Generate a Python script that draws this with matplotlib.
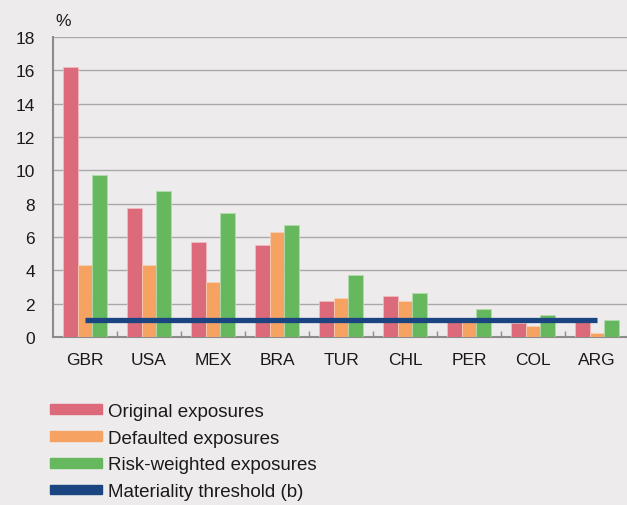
import matplotlib
matplotlib.use('Agg')
import matplotlib.pyplot as plt
from matplotlib.patches import Patch
import numpy as np

plt.rcParams['font.family'] = ['Liberation Sans', 'DejaVu Sans']

# exposure shares by country, %
countries = ['GBR', 'USA', 'MEX', 'BRA', 'TUR', 'CHL', 'PER', 'COL', 'ARG']
original = [16.2, 7.75, 5.7, 5.5, 2.15, 2.45, 1.1, 0.85, 1.05]
defaulted = [4.35, 4.3, 3.3, 6.3, 2.35, 2.15, 1.0, 0.65, 0.25]
risk_weighted = [9.75, 8.75, 7.42, 6.72, 3.7, 2.65, 1.7, 1.3, 1.0]
threshold = 1.0

bg = '#eeebec'
c_orig = '#dc6a7a'
c_def = '#f5a263'
c_rw = '#66b85e'
c_thr = '#1b4580'

fig = plt.figure(figsize=(6.27, 5.06), dpi=100, facecolor=bg)
ax = fig.add_axes([53/627, 168/506, 574/627, 300/506], facecolor=bg)

x = np.arange(len(countries))
w = 0.224
ax.bar(x - w, original, w, color=c_orig, edgecolor='#f2c0c6', linewidth=0.5, zorder=3)
ax.bar(x, defaulted, w, color=c_def, edgecolor='#f9d3b5', linewidth=0.5, zorder=3)
ax.bar(x + w, risk_weighted, w, color=c_rw, edgecolor='#b5ddb0', linewidth=0.5, zorder=3)

# threshold runs from the first to the last country
ax.plot([x[0], x[-1]], [threshold, threshold], color=c_thr, lw=3.8,
        solid_capstyle='butt', zorder=4)

ax.set_xlim(-0.5, -0.5 + 574/64)
ax.set_ylim(0, 18)
ax.set_yticks(range(0, 19, 2))
ax.set_xticks(x)
ax.set_xticklabels(countries)
ax.set_xticks(x[:-1] + 0.5, minor=True)
ax.tick_params(axis='x', which='major', length=0, pad=11, labelsize=12.5, colors='#1a1a1a')
ax.tick_params(axis='x', which='minor', direction='in', length=4, width=1, color='#8c8c8c')
ax.tick_params(axis='y', length=0, pad=13, labelsize=12.5, colors='#1a1a1a')

ax.grid(axis='y', color='#a9a9a9', lw=1, zorder=0)
for s in ['top', 'right']:
    ax.spines[s].set_visible(False)
for s in ['left', 'bottom']:
    ax.spines[s].set_color('#8c8c8c')
    ax.spines[s].set_linewidth(1.5)

fig.text(63/627, 1 - 22/506, '%', fontsize=12.5, ha='center', va='center', color='#1a1a1a')

handles = [Patch(color=c_orig, label='Original exposures'),
           Patch(color=c_def, label='Defaulted exposures'),
           Patch(color=c_rw, label='Risk-weighted exposures'),
           Patch(color=c_thr, label='Materiality threshold (b)')]
leg = fig.legend(handles=handles, loc='upper left', bbox_to_anchor=(50/627, 1 - 404/506),
                 frameon=False, fontsize=13.5, handlelength=2.75, handleheight=0.43,
                 handletextpad=0.37, labelspacing=0.52, borderpad=0, borderaxespad=0)
for t in leg.get_texts():
    t.set_color('#1a1a1a')

fig.savefig('out.png', dpi=100, facecolor=bg)
